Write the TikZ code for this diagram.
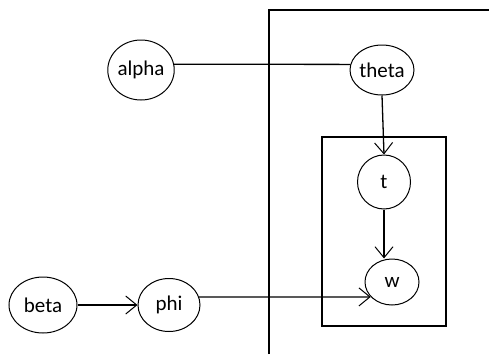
\documentclass[tikz,border=0pt]{standalone}
\usepackage{fontspec}
\setmainfont{Carlito}
\usetikzlibrary{shapes.geometric,arrows.meta}
\begin{document}
\begin{tikzpicture}[x=1pt,y=-1pt,line width=1.3pt,>={Straight Barb[length=11pt,width=18pt,line width=1pt]},
  var/.style={draw,ellipse,inner sep=0pt,line width=1pt,font=\fontsize{21}{24}\selectfont}]
\useasboundingbox (0,0) rectangle (489,354);
% plates
\draw (269,354) -- (269,10) -- (489,10);
\draw (322,137) rectangle (446,326);
% variables
\node[var,minimum width=55pt,minimum height=60pt] (alpha) at (141,70) {alpha};
\node[var,minimum width=52pt,minimum height=50pt] (theta) at (382,70) {theta};
\node[var,minimum width=53pt,minimum height=54pt] (t) at (384,182) {t};
\node[var,minimum width=54pt,minimum height=46pt] (w) at (392,282) {w};
\node[var,minimum width=68pt,minimum height=56pt] (beta) at (43,305) {beta};
\node[var,minimum width=62pt,minimum height=53pt] (phi) at (169,305) {phi};
% edges
\draw (alpha.10) -- (theta.170);
\draw[->] (theta.south) -- (t.north);
\draw[->] (t.south) -- (t.south |- w.north);
\draw[->] (beta) -- (phi);
\draw[->] (phi.15) -- (w.215);
\end{tikzpicture}
\end{document}
